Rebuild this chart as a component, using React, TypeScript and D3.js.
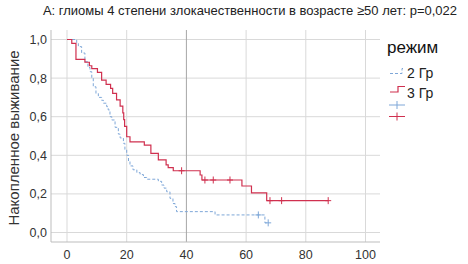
import { scaleLinear, line, curveStepAfter } from "d3"

const title = "A: глиомы 4 степени злокачественности в возрасте ≥50 лет: p=0,022"
const yLabel = "Накопленное выживание"
const legendTitle = "режим"
const groups = ["2 Гр", "3 Гр"]

const xTicks = [0, 20, 40, 60, 80, 100]
const yTicks = [0, 0.2, 0.4, 0.6, 0.8, 1.0]

// 2 Гр
const blueTimes = [0, 3.25, 3.8, 4.9, 6.0, 7.0, 7.7, 8.3, 8.8, 9.7, 10.5, 11.6, 12.2, 13.3, 13.8, 14.4, 15.0, 16.1, 17.2, 17.8, 18.9, 19.4, 20.0, 20.6, 21.1, 22.1, 23.4, 24.5, 25.6, 26.7, 30.6, 31.7, 32.5, 33.4, 34.5, 35.5, 36.2, 36.7, 49.6, 66.3]
const blueSurv = [1, 0.98, 0.963, 0.93, 0.885, 0.855, 0.833, 0.8, 0.755, 0.72, 0.7, 0.685, 0.67, 0.652, 0.635, 0.6, 0.583, 0.545, 0.51, 0.49, 0.462, 0.43, 0.4, 0.37, 0.345, 0.325, 0.31, 0.3, 0.285, 0.276, 0.265, 0.246, 0.23, 0.211, 0.177, 0.15, 0.134, 0.108, 0.091, 0.05]
const blueEnd = 67.4
const blueCensT = [64.1, 67.4]
const blueCensS = [0.091, 0.05]

// 3 Гр
const redTimes = [0, 1.6, 3.0, 6.0, 7.5, 8.3, 10.2, 11.6, 13.1, 14.6, 15.3, 16.6, 17.8, 18.7, 19.0, 19.3, 20.0, 21.1, 25.9, 28.1, 30.6, 33.2, 33.9, 35.6, 44.6, 45.2, 58.6, 61.8, 66.9]
const redSurv = [1, 0.98, 0.897, 0.882, 0.864, 0.849, 0.83, 0.79, 0.768, 0.747, 0.721, 0.687, 0.655, 0.62, 0.585, 0.55, 0.496, 0.47, 0.453, 0.41, 0.376, 0.35, 0.336, 0.32, 0.298, 0.272, 0.241, 0.205, 0.165]
const redEnd = 87.5
const redCensT = [38.4, 46.2, 49.0, 54.6, 68.0, 71.9, 87.5]
const redCensS = [0.32, 0.272, 0.272, 0.272, 0.165, 0.165, 0.165]

const BLUE = "#7ea7d8"
const RED = "#d0304f"
const FONT = "'Liberation Sans', Arial, sans-serif"

const W = 468
const H = 264
const plotLeft = 51
const plotRight = 380
const plotTop = 30
const plotBottom = 242

export default function App() {
  const x = scaleLinear().domain([0, 100]).range([67, 365.5])
  const y = scaleLinear().domain([0, 1]).range([232.5, 39.5])

  const stepLine = line<[number, number]>()
    .x((d) => x(d[0]))
    .y((d) => y(d[1]))
    .curve(curveStepAfter)

  const bluePts: [number, number][] = blueTimes.map((t, i) => [t, blueSurv[i]])
  bluePts.push([blueEnd, blueSurv[blueSurv.length - 1]])
  const redPts: [number, number][] = redTimes.map((t, i) => [t, redSurv[i]])
  redPts.push([redEnd, redSurv[redSurv.length - 1]])

  return (
    <svg
      width={W}
      height={H}
      style={{ position: "absolute", left: 0, top: 0, background: "#fff" }}
      fontFamily={FONT}
    >
      <text x={250} y={15} fontSize={13} textAnchor="middle" fill="#222">
        {title}
      </text>

      {/* grid */}
      {yTicks.map((t) => (
        <line key={"gy" + t} x1={plotLeft} x2={plotRight} y1={y(t)} y2={y(t)} stroke="#d9d9d9" strokeWidth={1} />
      ))}
      {xTicks.map((t) => (
        <line
          key={"gx" + t}
          x1={x(t)}
          x2={x(t)}
          y1={plotTop}
          y2={plotBottom}
          stroke={t === 40 ? "#a6a6a6" : "#d9d9d9"}
          strokeWidth={1}
        />
      ))}

      {/* axes */}
      <line x1={plotLeft} x2={plotLeft} y1={plotTop} y2={plotBottom} stroke="#bdbdbd" />
      <line x1={plotLeft} x2={plotRight} y1={plotBottom} y2={plotBottom} stroke="#bdbdbd" />

      {yTicks.map((t) => (
        <text key={"ly" + t} x={47} y={y(t) + 4.5} fontSize={12.5} textAnchor="end" fill="#333">
          {t.toFixed(1).replace(".", ",")}
        </text>
      ))}
      {xTicks.map((t) => (
        <text key={"lx" + t} x={x(t)} y={259} fontSize={12.5} textAnchor="middle" fill="#333">
          {t}
        </text>
      ))}

      <text
        transform={`translate(19,${138}) rotate(-90)`}
        fontSize={15}
        textAnchor="middle"
        fill="#333"
      >
        {yLabel}
      </text>

      {/* curves */}
      <path d={stepLine(bluePts) ?? ""} fill="none" stroke={BLUE} strokeWidth={1} strokeDasharray="3,2" />
      <path d={stepLine(redPts) ?? ""} fill="none" stroke={RED} strokeWidth={1.2} />

      {blueCensT.map((t, i) => (
        <g key={"bc" + i} stroke={BLUE} strokeWidth={1}>
          <line x1={x(t)} x2={x(t)} y1={y(blueCensS[i]) - 3.5} y2={y(blueCensS[i]) + 3.5} />
          <line x1={x(t) - 3} x2={x(t) + 3} y1={y(blueCensS[i])} y2={y(blueCensS[i])} />
        </g>
      ))}
      {redCensT.map((t, i) => (
        <g key={"rc" + i} stroke={RED} strokeWidth={1}>
          <line x1={x(t)} x2={x(t)} y1={y(redCensS[i]) - 3.5} y2={y(redCensS[i]) + 3.5} />
          <line x1={x(t) - 3} x2={x(t) + 3} y1={y(redCensS[i])} y2={y(redCensS[i])} />
        </g>
      ))}

      {/* legend */}
      <text x={387} y={53} fontSize={17} fill="#111">
        {legendTitle}
      </text>
      <path d="M390,73.5 H402 V68.5 H405" fill="none" stroke={BLUE} strokeDasharray="3,2" />
      <text x={407} y={78} fontSize={14} fill="#222">
        {groups[0]}
      </text>
      <path d="M390,92 H398 V86.5 H405" fill="none" stroke={RED} strokeWidth={1.2} />
      <text x={407} y={98} fontSize={14} fill="#222">
        {groups[1]}
      </text>
      <g stroke={BLUE}>
        <line x1={389} x2={405} y1={105} y2={105} />
        <line x1={397} x2={397} y1={101} y2={109} />
      </g>
      <g stroke={RED}>
        <line x1={389} x2={405} y1={116.5} y2={116.5} />
        <line x1={397} x2={397} y1={112.5} y2={120.5} />
      </g>
    </svg>
  )
}
